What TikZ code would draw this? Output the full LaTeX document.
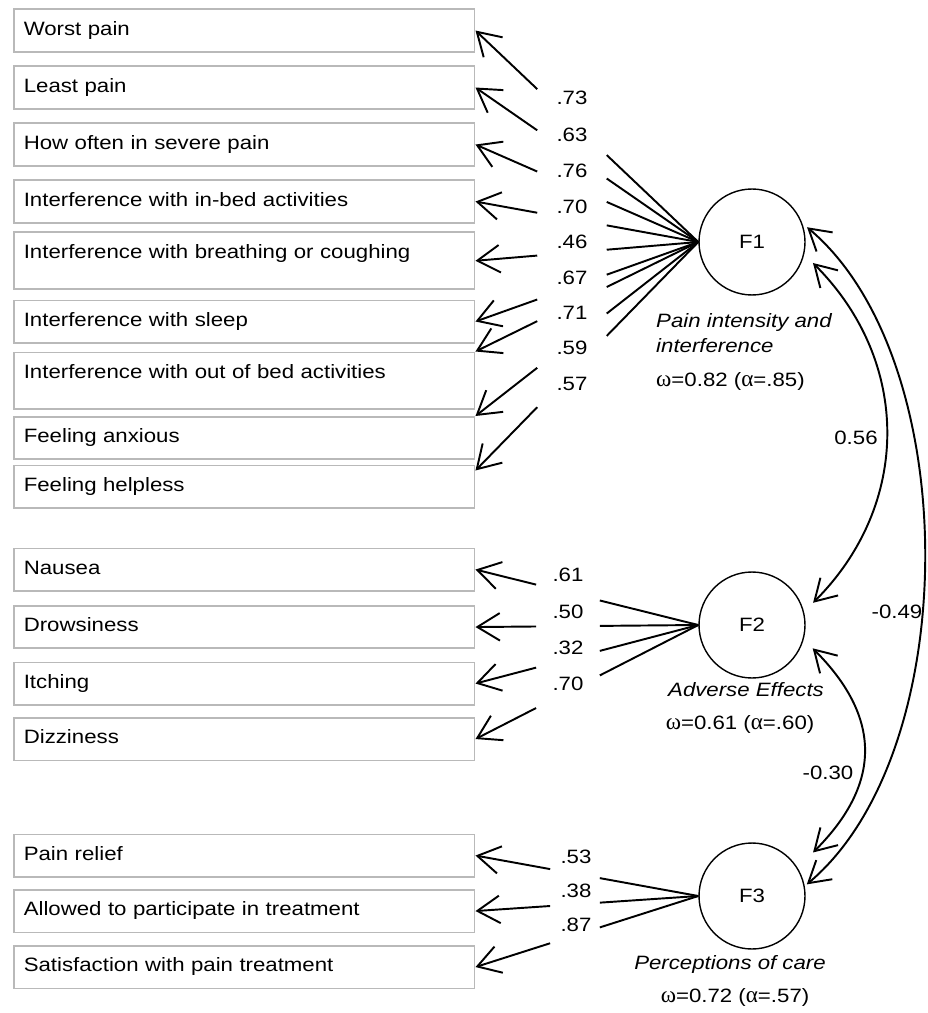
\documentclass[tikz,border=0pt]{standalone}
\usepackage{fontspec}
\setmainfont{Liberation Sans}[FakeStretch=1.15]
\newfontfamily\grkfont{Liberation Serif}[Scale=1.2]
\usetikzlibrary{arrows.meta,calc}

\newcommand{\omg}{{\grkfont\upshape ω}}
\newcommand{\alp}{{\grkfont\upshape α}}

\tikzset{
  item/.style={draw=gray!55, line width=0.9pt, anchor=north west, inner xsep=0.2cm, inner ysep=0pt,
    text width=8.82cm, align=left, text height=0.52cm, text depth=0.33cm},
  tallitem/.style={item, text depth=0.62cm},
  factor/.style={draw, circle, line width=0.8pt, minimum size=2.12cm, inner sep=0pt},
  coef/.style={inner sep=1pt},
  loading/.style={line width=1.1pt},
  ldarrow/.style={loading, -{Straight Barb[length=0.45cm, width=0.55cm]}},
  covarrow/.style={loading, {Straight Barb[length=0.42cm, width=0.5cm]}-{Straight Barb[length=0.42cm, width=0.5cm]}},
}

\begin{document}
\begin{tikzpicture}[x=0.02cm, y=0.02cm, font=\fontsize{11}{14.2}\selectfont]
\useasboundingbox (0,0) rectangle (928,-1013);

% indicators
\node[item] (w1) at (13,-8.5) {Worst pain};
\node[item] (w2) at (13,-65.5) {Least pain};
\node[item] (w3) at (13,-122.5) {How often in severe pain};
\node[item] (w4) at (13,-179.5) {Interference with in-bed activities};
\node[tallitem] (w5) at (13,-231.5) {Interference with breathing or coughing};
\node[item] (w6) at (13,-299.5) {Interference with sleep};
\node[tallitem] (w7) at (13,-351.5) {Interference with out of bed activities};
\node[item] (w8) at (13,-416) {Feeling anxious};
\node[item] (w9) at (13,-464.5) {Feeling helpless};

\node[item] (e1) at (13,-547.5) {Nausea};
\node[item] (e2) at (13,-605) {Drowsiness};
\node[item] (e3) at (13,-661.5) {Itching};
\node[item] (e4) at (13,-717) {Dizziness};

\node[item] (c1) at (13,-833.5) {Pain relief};
\node[item] (c2) at (13,-889) {Allowed to participate in treatment};
\node[item] (c3) at (13,-945) {Satisfaction with pain treatment};

% latent factors
\node[factor] (F1) at (752,-242) {F1};
\node[factor] (F2) at (752,-625) {F2};
\node[factor] (F3) at (752,-896) {F3};

\node[align=left, anchor=west, font=\fontsize{11}{14.2}\selectfont\itshape] (cap1) at (650,-333) {Pain intensity and\\interference};
\node[anchor=west] (rel1) at (650,-381) {\omg=0.82 (\alp=.85)};
\node[font=\fontsize{11}{14.2}\selectfont\itshape] (cap2) at (746,-690) {Adverse Effects};
\node (rel2) at (740,-724) {\omg=0.61 (\alp=.60)};
\node[font=\fontsize{11}{14.2}\selectfont\itshape] (cap3) at (730,-964) {Perceptions of care};
\node (rel3) at (735,-997) {\omg=0.72 (\alp=.57)};

% loadings
\coordinate (w9t) at ($(w9.north east)+(0,-6)$);
\foreach \p in {w1.east, w2.east, w3.east, w4.east, w5.east, w6.east, w7.north east, w8.north east, w9t}
{
  \draw[loading] (F1.west) -- ($(F1.west)!0.411!(\p)$);
  \draw[ldarrow] ($(F1.west)!0.723!(\p)$) -- (\p);
}
\foreach \p in {e1, e2, e3, e4}
{
  \draw[loading] (F2.west) -- ($(F2.west)!0.442!(\p.east)$);
  \draw[ldarrow] ($(F2.west)!0.728!(\p.east)$) -- (\p.east);
}
\foreach \p in {c1, c2, c3}
{
  \draw[loading] (F3.west) -- ($(F3.west)!0.442!(\p.east)$);
  \draw[ldarrow] ($(F3.west)!0.665!(\p.east)$) -- (\p.east);
}

\node[coef] (l1) at (572,-98) {.73};
\node[coef] (l2) at (572,-135) {.63};
\node[coef] (l3) at (572,-171) {.76};
\node[coef] (l4) at (572,-207) {.70};
\node[coef] (l5) at (572,-242) {.46};
\node[coef] (l6) at (572,-278) {.67};
\node[coef] (l7) at (572,-313) {.71};
\node[coef] (l8) at (572,-348) {.59};
\node[coef] (l9) at (572,-384) {.57};

\node[coef] (m1) at (568,-575) {.61};
\node[coef] (m2) at (568,-612) {.50};
\node[coef] (m3) at (568,-648) {.32};
\node[coef] (m4) at (568,-684) {.70};

\node[coef] (n1) at (576,-857) {.53};
\node[coef] (n2) at (576,-891) {.38};
\node[coef] (n3) at (576,-925) {.87};

% factor correlations
\draw[covarrow] ($(F1)+(-19:1.29cm)$) to[out=-45, in=45, looseness=1.05] ($(F2)+(20:1.3cm)$);
\draw[covarrow] ($(F2)+(-21:1.3cm)$) to[out=-45, in=45, looseness=1.22] ($(F3)+(35.5:1.5cm)$);
\draw[covarrow] ($(F1)+(15:1.14cm)$) to[out=-40, in=40, looseness=0.8] ($(F3)+(12:1.12cm)$);

\node[coef] (r12) at (856,-438) {0.56};
\node[coef] (r13) at (897,-612) {-0.49};
\node[coef] (r23) at (828,-773) {-0.30};
\end{tikzpicture}
\end{document}
